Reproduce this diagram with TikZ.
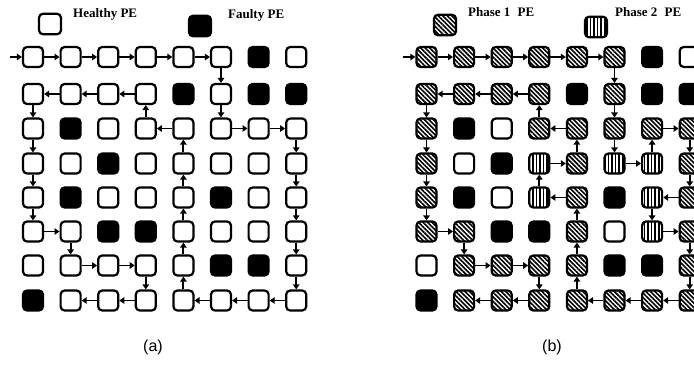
\documentclass[tikz,border=0pt]{standalone}
\usepackage{fontspec}
\setmainfont{Liberation Serif}
\newfontfamily\labelfont{Liberation Sans}
\usetikzlibrary{arrows.meta,patterns.meta}

\tikzset{
  pebox/.style={draw=black, line width=2.2pt, rounded corners=4pt,
    minimum width=20pt, minimum height=20pt, inner sep=0pt, fill=white},
  peH/.style={pebox},
  peF/.style={pebox, fill=black},
  peP/.style={pebox, pattern={Lines[angle=-45,distance=3.2pt,line width=1.6pt]}},
  peQ/.style={pebox, pattern={Lines[angle=90,distance=3.6pt,line width=1.6pt]}},
  legbox/.style={minimum width=22pt, minimum height=20.5pt},
  legtext/.style={font=\fontsize{13pt}{14pt}\selectfont\bfseries, anchor=west, inner sep=0pt},
  sublabel/.style={font=\labelfont\fontsize{16pt}{18pt}\selectfont, inner sep=0pt},
  conn/.style={line width=1.9pt, -{Triangle[length=5pt,width=6.5pt]}}
}

\begin{document}
\begin{tikzpicture}[x=1pt, y=-1pt]
  \useasboundingbox (0,0) rectangle (694,365);
  \fill[white] (0,0) rectangle (694,365);
  \clip (0,0) rectangle (694,365);

  % legend of array (a)
  \node[peH, legbox] (legH) at (50,24) {};
  \node[legtext] (legHt) at (73,14) {Healthy PE};
  \node[peF, legbox] (legF) at (200,26) {};
  \node[legtext] (legFt) at (228,15) {Faulty PE};

  % legend of array (b)
  \node[peP, legbox] (legP) at (445,25) {};
  \node[legtext] (legPt) at (468,12) {Phase 1\hspace{4pt} PE};
  \node[peQ, legbox] (legQ) at (596,27) {};
  \node[legtext] (legQt) at (615,12) {Phase 2\hspace{4pt} PE};

  % array (a): H healthy, F faulty
  \foreach \row [count=\r] in {
      {H,H,H,H,H,H,F,H},
      {H,H,H,H,F,H,F,F},
      {H,F,H,H,H,H,H,H},
      {H,H,F,H,H,H,H,H},
      {H,F,H,H,H,F,H,H},
      {H,H,F,F,H,H,H,H},
      {H,H,H,H,H,F,F,H},
      {F,H,H,H,H,H,H,H}} {
    \pgfmathsetmacro\yy{{57,94,128.5,163.5,197.5,231.5,265.5,300.5}[\r-1]}
    \foreach \s [count=\c] in \row {
      \node[pe\s] (a-\r-\c) at ({33+37.6*(\c-1)},\yy) {};
    }
  }

  % array (b): P phase 1, Q phase 2, H healthy, F faulty
  \foreach \row [count=\r] in {
      {P,P,P,P,P,P,F,H},
      {P,P,P,P,F,P,F,F},
      {P,F,H,P,P,P,P,P},
      {P,H,F,Q,P,Q,Q,P},
      {P,F,H,Q,P,F,Q,P},
      {P,P,F,F,P,H,Q,P},
      {H,P,P,P,P,F,F,P},
      {F,P,P,P,P,P,P,P}} {
    \pgfmathsetmacro\yy{{57,94,128.5,163.5,197.5,231.5,265.5,300.5}[\r-1]}
    \foreach \s [count=\c] in \row {
      \node[pe\s] (b-\r-\c) at ({426.5+37.6*(\c-1)},\yy) {};
    }
  }

  % input arrows
  \coordinate (a-in) at (10,57);
  \coordinate (b-in) at (403,57);
  \draw[conn] (a-in) -- (a-1-1);
  \draw[conn] (b-in) -- (b-1-1);

  % snake path through array (a)
  \foreach \p/\q in {1-1/1-2, 1-2/1-3, 1-3/1-4, 1-4/1-5, 1-5/1-6, 1-6/2-6,
      2-6/3-6, 3-6/3-7, 3-7/3-8, 3-8/4-8, 4-8/5-8, 5-8/6-8, 6-8/7-8, 7-8/8-8,
      8-8/8-7, 8-7/8-6, 8-6/8-5, 8-5/7-5, 7-5/6-5, 6-5/5-5, 5-5/4-5, 4-5/3-5,
      3-5/3-4, 3-4/2-4, 2-4/2-3, 2-3/2-2, 2-2/2-1, 2-1/3-1, 3-1/4-1, 4-1/5-1,
      5-1/6-1, 6-1/6-2, 6-2/7-2, 7-2/7-3, 7-3/7-4, 7-4/8-4, 8-4/8-3, 8-3/8-2}
    \draw[conn] (a-\p) -- (a-\q);

  % path through array (b)
  \foreach \p/\q in {1-1/1-2, 1-2/1-3, 1-3/1-4, 1-4/1-5, 1-5/1-6, 1-6/2-6,
      2-6/3-6, 3-6/4-6, 4-6/4-7, 4-7/3-7, 3-7/3-8, 3-8/4-8, 4-8/5-8, 5-8/5-7,
      5-7/6-7, 6-7/6-8, 6-8/7-8, 7-8/8-8, 8-8/8-7, 8-7/8-6, 8-6/8-5, 8-5/7-5,
      7-5/6-5, 6-5/5-5, 5-5/5-4, 5-4/4-4, 4-4/4-5, 4-5/3-5, 3-5/3-4, 3-4/2-4,
      2-4/2-3, 2-3/2-2, 2-2/2-1, 2-1/3-1, 3-1/4-1, 4-1/5-1, 5-1/6-1, 6-1/6-2,
      6-2/7-2, 7-2/7-3, 7-3/7-4, 7-4/8-4, 8-4/8-3, 8-3/8-2}
    \draw[conn] (b-\p) -- (b-\q);

  % sub-figure labels
  \node[sublabel] (lab-a) at (153,347) {(a)};
  \node[sublabel] (lab-b) at (552,347) {(b)};
\end{tikzpicture}
\end{document}
